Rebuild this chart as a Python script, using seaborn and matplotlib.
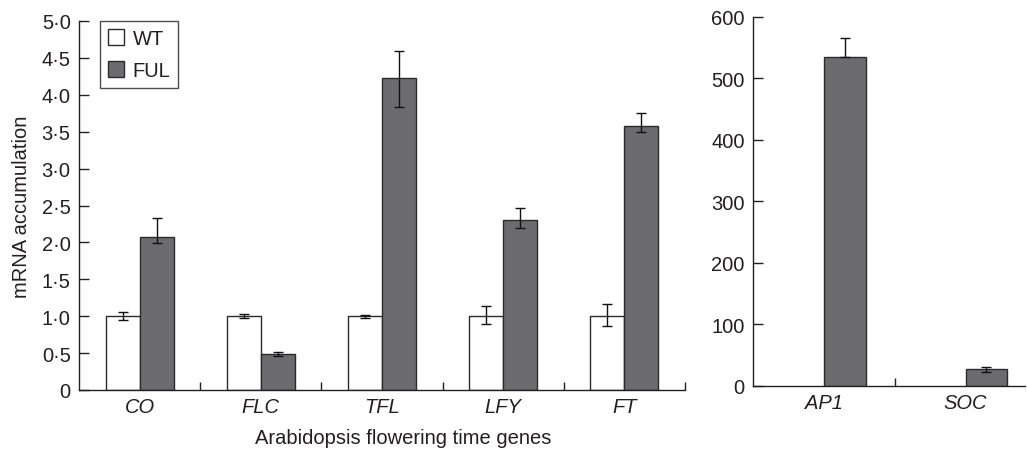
import pandas as pd
import numpy as np
import matplotlib
matplotlib.use('Agg')
import matplotlib.pyplot as plt
from matplotlib.container import BarContainer
from matplotlib.ticker import FuncFormatter
import seaborn as sns

# left panel: flowering time genes
genes = ['CO', 'FLC', 'TFL', 'LFY', 'FT']
wt_vals = [1.0, 1.0, 1.0, 1.0, 1.0]
wt_err_lo = [0.05, 0.03, 0.02, 0.11, 0.13]
wt_err_hi = [0.06, 0.03, 0.02, 0.14, 0.16]
ful_vals = [2.07, 0.49, 4.23, 2.30, 3.58]
ful_err_lo = [0.08, 0.03, 0.40, 0.10, 0.09]
ful_err_hi = [0.26, 0.03, 0.36, 0.17, 0.18]

# right panel: only FUL measured
genes2 = ['AP1', 'SOC']
ful_vals2 = [535, 27]
ful_err2_lo = [0, 4]
ful_err2_hi = [31, 4]

groups = ['WT', 'FUL']
palette = {'WT': '#ffffff', 'FUL': '#6b6c70'}
edge = '#2a2a2a'
ink = '#231f20'
fs = 14.5

sns.set_style('ticks')
plt.rcParams['font.family'] = ['Liberation Sans', 'DejaVu Sans']
plt.rcParams['font.size'] = fs


def dot_fmt(v, pos):
    if abs(v) < 1e-9:
        return '0'
    return f'{v:.1f}'.replace('.', '\u00b7')


def style_axis(ax):
    sns.despine(ax=ax)
    for s in ['left', 'bottom']:
        ax.spines[s].set_color(ink)
        ax.spines[s].set_linewidth(1.0)
    ax.tick_params(axis='y', direction='in', length=7, width=1, colors=ink,
                   labelsize=fs, labelcolor=ink, pad=6)
    ax.tick_params(axis='x', which='major', length=0, labelsize=fs,
                   labelcolor=ink, pad=5)
    ax.tick_params(axis='x', which='minor', direction='in', length=6,
                   width=1, colors=ink)
    for lab in ax.get_xticklabels():
        lab.set_fontstyle('italic')


def bar_containers(ax):
    return [c for c in ax.containers if isinstance(c, BarContainer)]


def add_errors(ax, container, lo, hi):
    xs = [p.get_x() + p.get_width() / 2 for p in container.patches]
    ys = [p.get_height() for p in container.patches]
    ax.errorbar(xs, ys, yerr=[lo, hi], fmt='none', ecolor='#111111',
                elinewidth=1.0, capsize=3.5, capthick=1.0, zorder=5)


fig = plt.figure(figsize=(10.27, 4.52), dpi=100)

# ---- left panel
df = pd.DataFrame({
    'gene': genes * 2,
    'group': ['WT'] * len(genes) + ['FUL'] * len(genes),
    'value': wt_vals + ful_vals,
})
ax1 = fig.add_axes([79 / 1027, 61 / 452, 606 / 1027, 369 / 452])
sns.barplot(data=df, x='gene', y='value', hue='group', hue_order=groups,
            order=genes, palette=palette, errorbar=None, width=0.56,
            dodge=True, edgecolor=edge, linewidth=1.0, legend=False, ax=ax1)
bars1 = bar_containers(ax1)
add_errors(ax1, bars1[0], wt_err_lo, wt_err_hi)
add_errors(ax1, bars1[1], ful_err_lo, ful_err_hi)

ax1.set_xlim(-0.5, len(genes) - 0.5)
ax1.set_ylim(0, 5)
ax1.set_yticks(np.arange(0, 5.01, 0.5))
ax1.yaxis.set_major_formatter(FuncFormatter(dot_fmt))
ax1.set_xticks(np.arange(0.5, len(genes), 1.0), minor=True)
ax1.set_ylabel('mRNA accumulation', fontsize=fs, color=ink)
ax1.yaxis.set_label_coords(-0.08, 0.5)
ax1.set_xlabel('Arabidopsis flowering time genes', fontsize=14.5, color=ink)
ax1.xaxis.set_label_coords(0.535, -0.103)
style_axis(ax1)

handles = [c.patches[0] for c in bars1]
leg = ax1.legend(handles, groups, loc='upper left',
                 bbox_to_anchor=(0.035, 1.0), frameon=True, fancybox=False,
                 handlelength=0.8, handleheight=0.8, handletextpad=0.4,
                 borderpad=0.4, labelspacing=0.65, fontsize=fs,
                 borderaxespad=0)
leg.get_frame().set_edgecolor(ink)
leg.get_frame().set_linewidth(1.0)
for t in leg.get_texts():
    t.set_color(ink)

# ---- right panel
df2 = pd.DataFrame({
    'gene': genes2,
    'group': ['FUL'] * len(genes2),
    'value': ful_vals2,
})
ax2 = fig.add_axes([753 / 1027, 65 / 452, 272 / 1027, 369.4 / 452])
sns.barplot(data=df2, x='gene', y='value', hue='group', hue_order=groups,
            order=genes2, palette=palette, errorbar=None, width=0.59,
            dodge=True, edgecolor=edge, linewidth=1.0, legend=False, ax=ax2)
ful_cont = [c for c in bar_containers(ax2) if len(c.patches) > 0][-1]
add_errors(ax2, ful_cont, ful_err2_lo, ful_err2_hi)

ax2.set_xlim(-0.5, 1.42)
ax2.set_ylim(0, 600)
ax2.set_yticks(np.arange(0, 601, 100))
ax2.set_xticks([0.5], minor=True)
ax2.set_xlabel('')
ax2.set_ylabel('')
style_axis(ax2)

fig.savefig('out.png', dpi=100)
